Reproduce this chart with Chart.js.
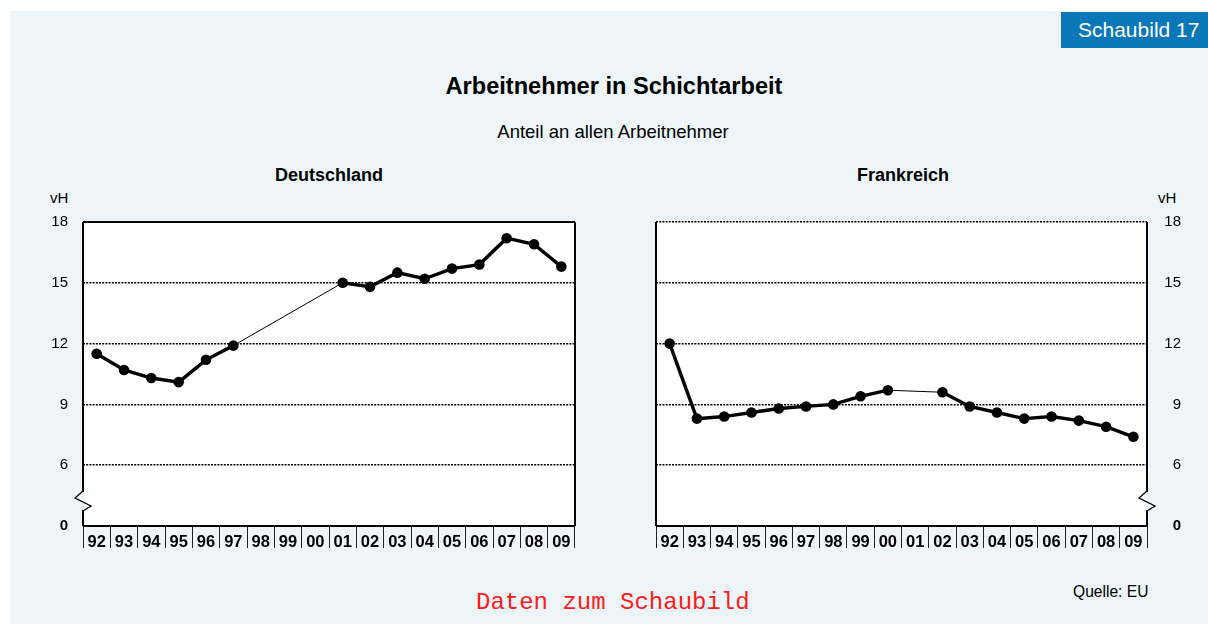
<!DOCTYPE html>
<html lang="de">
<head>
<meta charset="utf-8">
<title>Arbeitnehmer in Schichtarbeit</title>
<script src="https://cdn.jsdelivr.net/npm/chart.js@4.4.1/dist/chart.umd.min.js"></script>
<style>
  body {
    margin: 0;
    width: 1208px;
    height: 624px;
    background: #fff;
    position: relative;
    overflow: hidden;
    font-family: "Liberation Sans", Arial, sans-serif;
    color: #000;
  }
  #panel { position: absolute; left: 10px; top: 11px; right: 0; bottom: 0; background: #edf5f8; }
  .txt { position: absolute; white-space: nowrap; line-height: 1; transform: translate(-50%, -50%); }
  .lt { transform: translate(0, -50%); }
  #badge {
    position: absolute; left: 1061px; top: 12px; width: 147px; height: 36px;
    background: #0a77b8; color: #fff; font-size: 21px; line-height: 36px;
    padding-left: 17px; box-sizing: border-box;
  }
  #chartDe { position: absolute; left: 0; top: 180px; }
  #chartFr { position: absolute; left: 600px; top: 180px; }
</style>
</head>
<body>
<div id="panel"></div>
<div id="badge">Schaubild 17</div>
<div class="txt" style="left:614px; top:87px; font-size:23.6px; font-weight:bold;">Arbeitnehmer in Schichtarbeit</div>
<div class="txt" style="left:613px; top:132px; font-size:18.5px;">Anteil an allen Arbeitnehmer</div>
<div class="txt" style="left:329px; top:175px; font-size:18px; font-weight:bold;">Deutschland</div>
<div class="txt" style="left:903px; top:175px; font-size:18px; font-weight:bold;">Frankreich</div>
<div class="txt lt" style="left:50px; top:197px; font-size:15px;">vH</div>
<div class="txt lt" style="left:1158px; top:197px; font-size:15px;">vH</div>
<div class="txt lt" style="left:1073px; top:592px; font-size:15.6px;">Quelle: EU</div>
<div class="txt lt" style="left:476px; top:603px; font-size:24px; font-family:'Liberation Mono', monospace; color:#ff1a1a;">Daten zum Schaubild</div>

<canvas id="chartDe" width="600" height="390"></canvas>
<canvas id="chartFr" width="608" height="390"></canvas>

<script>
const years = ["92", "93", "94", "95", "96", "97", "98", "99", "00",
               "01", "02", "03", "04", "05", "06", "07", "08", "09"];

// Anteil in vH, Lücken = keine Angabe
const deutschland = [11.5, 10.7, 10.3, 10.1, 11.2, 11.9, null, null, null,
                     15.0, 14.8, 15.5, 15.2, 15.7, 15.9, 17.2, 16.9, 15.8];
const frankreich = [12.0, 8.3, 8.4, 8.6, 8.8, 8.9, 9.0, 9.4, 9.7,
                    null, 9.6, 8.9, 8.6, 8.3, 8.4, 8.2, 7.9, 7.4];

// y-Achse ist unterbrochen: der unterste Wert 3 wird als "0" beschriftet
const yMin = 3;
const yMax = 18;
const yStep = 3;

const FONT = "'Liberation Sans', Arial, sans-serif";
const BG = "#edf5f8";

// weisser Plotbereich
const plotBackground = {
    id: "plotBackground",
    beforeDraw(chart) {
        const { ctx, chartArea: a } = chart;
        ctx.save();
        ctx.fillStyle = "#fff";
        ctx.fillRect(a.left, a.top, a.right - a.left, a.bottom - a.top);
        ctx.restore();
    }
};

// Rahmen + Achsenbruch
const frame = {
    id: "frame",
    afterDraw(chart, args, opts) {
        const { ctx, chartArea: a } = chart;
        ctx.save();
        ctx.strokeStyle = "#000";
        ctx.lineWidth = 2;
        ctx.beginPath();
        ctx.moveTo(a.left, a.bottom);
        ctx.lineTo(a.right, a.bottom);
        ctx.moveTo(a.left, a.top);
        ctx.lineTo(a.left, a.bottom);
        ctx.moveTo(a.right, a.top);
        ctx.lineTo(a.right, a.bottom);
        if (opts.solidTop) {
            ctx.moveTo(a.left, a.top);
            ctx.lineTo(a.right, a.top);
        }
        ctx.stroke();

        // Bruchzeichen auf der Werteachse
        const x = opts.side === "left" ? a.left : a.right;
        const y0 = a.bottom - 35;
        ctx.fillStyle = BG;
        ctx.fillRect(x - 1.5, y0 + 1, 3, 18);
        ctx.lineWidth = 1.3;
        ctx.beginPath();
        ctx.moveTo(x, y0);
        ctx.lineTo(x - 8, y0 + 7);
        ctx.lineTo(x + 8, y0 + 15);
        ctx.lineTo(x, y0 + 20);
        ctx.stroke();
        ctx.restore();
    }
};

function makeChart(canvasId, values, side) {
    const ctx = document.getElementById(canvasId).getContext("2d");
    const isLeft = side === "left";

    return new Chart(ctx, {
        type: "line",
        data: {
            labels: years,
            datasets: [{
                data: values,
                borderColor: "#000",
                borderWidth: 3.4,
                pointRadius: 5.3,
                pointBackgroundColor: "#000",
                pointBorderWidth: 0,
                tension: 0,
                spanGaps: true,
                clip: false,
                segment: {
                    borderWidth: c => (c.p0.skip || c.p1.skip) ? 1 : 3.4
                }
            }]
        },
        options: {
            responsive: false,
            animation: false,
            events: [],
            layout: {
                padding: isLeft
                    ? { left: 0, right: 25, top: 42, bottom: 0 }
                    : { left: 56, right: 27, top: 42, bottom: 0 }
            },
            plugins: {
                legend: { display: false },
                tooltip: { enabled: false },
                frame: { side, solidTop: isLeft }
            },
            scales: {
                x: {
                    offset: true,
                    afterFit: s => { s.height = 44; },
                    border: { display: false },
                    grid: {
                        offset: true,
                        drawOnChartArea: false,
                        drawTicks: true,
                        tickLength: 22,
                        tickWidth: 1,
                        tickColor: "#222"
                    },
                    ticks: {
                        autoSkip: false,
                        maxRotation: 0,
                        padding: -15,
                        color: "#000",
                        font: { family: FONT, size: 16.5, weight: "bold" }
                    }
                },
                y: {
                    position: side,
                    min: yMin,
                    max: yMax,
                    afterFit: s => { s.width = isLeft ? 83 : 34; },
                    border: { display: false, dash: [2, 1.2] },
                    grid: {
                        drawTicks: false,
                        lineWidth: 1.6,
                        color: c => {
                            const v = c.tick && c.tick.value;
                            if (v === yMin) return "rgba(0,0,0,0)";
                            if (v === yMax && isLeft) return "rgba(0,0,0,0)";
                            return "#000";
                        }
                    },
                    ticks: {
                        stepSize: yStep,
                        padding: isLeft ? 15 : 0,
                        crossAlign: isLeft ? "near" : "far",
                        color: "#000",
                        callback: v => v === yMin ? "0" : String(v),
                        font: c => ({
                            family: FONT,
                            size: 15,
                            weight: (c.tick && c.tick.value === yMin) ? "bold" : "normal"
                        })
                    }
                }
            }
        },
        plugins: [plotBackground, frame]
    });
}

makeChart("chartDe", deutschland, "left");
makeChart("chartFr", frankreich, "right");
</script>
</body>
</html>
